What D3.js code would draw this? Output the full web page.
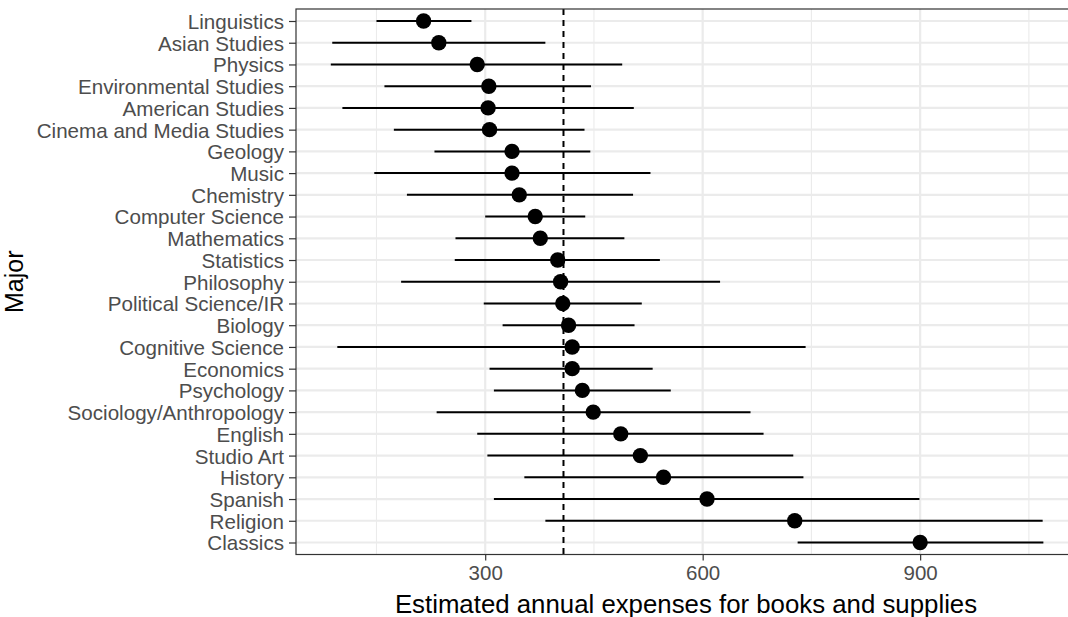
<!DOCTYPE html>
<html>
<head>
<meta charset="utf-8">
<script src="https://cdn.jsdelivr.net/npm/d3@7"></script>
<style>
  html, body { margin: 0; padding: 0; background: #fff; }
  svg { display: block; font-family: "Liberation Sans", Arial, sans-serif; }
</style>
</head>
<body>
<svg id="chart" width="1068" height="617"></svg>
<script>
// ---- data ----
const majors = ["Linguistics","Asian Studies","Physics","Environmental Studies","American Studies",
  "Cinema and Media Studies","Geology","Music","Chemistry","Computer Science","Mathematics",
  "Statistics","Philosophy","Political Science/IR","Biology","Cognitive Science","Economics",
  "Psychology","Sociology/Anthropology","English","Studio Art","History","Spanish","Religion","Classics"];
const estimates = [215,236,289,305,304,306,337,337,347,369,376,400,404,407,415,420,420,434,449,487,514,546,606,727,900];
const lower     = [150,89,87,161,103,174,230,147,192,300,259,258,184,298,324,96,306,312,233,289,303,354,312,383,731];
const upper     = [281,383,489,446,505,437,445,528,504,438,492,541,624,516,506,742,531,556,666,684,725,739,899,1069,1070];
const overallMean = 408;
const xMajorTicks = [300, 600, 900];
const xMinorTicks = [150, 450, 750, 1050];
const xTitle = "Estimated annual expenses for books and supplies";
const yTitle = "Major";

// ---- layout ----
const svg = d3.select("#chart");
const panel = { left: 296, right: 1076, top: 9, bottom: 554.5 };

const x = d3.scaleLinear().domain([39, 1115]).range([panel.left, panel.right]);
const y = d3.scalePoint().domain(majors).range([21, 542.5]);

const rows = majors.map((m, i) => ({ major: m, est: estimates[i], lo: lower[i], hi: upper[i] }));

// panel background
svg.append("rect")
  .attr("x", panel.left).attr("y", panel.top)
  .attr("width", panel.right - panel.left).attr("height", panel.bottom - panel.top)
  .attr("fill", "#fff");

const grid = svg.append("g");
// minor vertical gridlines
grid.selectAll("line.minor").data(xMinorTicks).join("line")
  .attr("x1", d => x(d)).attr("x2", d => x(d))
  .attr("y1", panel.top).attr("y2", panel.bottom)
  .attr("stroke", "#EBEBEB").attr("stroke-width", 1.1);
// major vertical gridlines
grid.selectAll("line.majx").data(xMajorTicks).join("line")
  .attr("x1", d => x(d)).attr("x2", d => x(d))
  .attr("y1", panel.top).attr("y2", panel.bottom)
  .attr("stroke", "#EBEBEB").attr("stroke-width", 2.2);
// horizontal gridlines
grid.selectAll("line.majy").data(majors).join("line")
  .attr("x1", panel.left).attr("x2", panel.right)
  .attr("y1", d => y(d)).attr("y2", d => y(d))
  .attr("stroke", "#EBEBEB").attr("stroke-width", 2.2);

// dashed mean line
svg.append("line")
  .attr("x1", x(overallMean)).attr("x2", x(overallMean))
  .attr("y1", panel.top).attr("y2", panel.bottom)
  .attr("stroke", "#000").attr("stroke-width", 2)
  .attr("stroke-dasharray", "6,5");

// interval lines
svg.append("g").selectAll("line").data(rows).join("line")
  .attr("x1", d => x(d.lo)).attr("x2", d => x(d.hi))
  .attr("y1", d => y(d.major)).attr("y2", d => y(d.major))
  .attr("stroke", "#000").attr("stroke-width", 2);

// points
svg.append("g").selectAll("circle").data(rows).join("circle")
  .attr("cx", d => x(d.est)).attr("cy", d => y(d.major))
  .attr("r", 7.7).attr("fill", "#000");

// panel border
svg.append("rect")
  .attr("x", panel.left).attr("y", panel.top)
  .attr("width", panel.right - panel.left).attr("height", panel.bottom - panel.top)
  .attr("fill", "none").attr("stroke", "#333").attr("stroke-width", 1.2);

// x axis
const xAxis = svg.append("g")
  .attr("transform", `translate(0,${panel.bottom})`)
  .call(d3.axisBottom(x).tickValues(xMajorTicks).tickSize(6).tickPadding(5).tickFormat(d3.format("d")));
xAxis.select(".domain").remove();
xAxis.selectAll(".tick line").attr("stroke", "#333").attr("stroke-width", 1.2);
xAxis.selectAll(".tick text").attr("fill", "#4D4D4D").style("font-size", "20.5px")
  .style("font-family", "'Liberation Sans', Arial, sans-serif");

// y axis
const yAxis = svg.append("g")
  .attr("transform", `translate(${panel.left},0)`)
  .call(d3.axisLeft(y).tickSize(7).tickPadding(5));
yAxis.select(".domain").remove();
yAxis.selectAll(".tick line").attr("stroke", "#333").attr("stroke-width", 1.2);
yAxis.selectAll(".tick text").attr("fill", "#4D4D4D").style("font-size", "20.6px")
  .attr("dy", "0.36em")
  .style("font-family", "'Liberation Sans', Arial, sans-serif");

// axis titles
svg.append("text")
  .attr("x", 686).attr("y", 613)
  .attr("text-anchor", "middle").attr("fill", "#000")
  .style("font-size", "25.8px").text(xTitle);

svg.append("text")
  .attr("transform", `translate(23,${(panel.top + panel.bottom) / 2}) rotate(-90)`)
  .attr("text-anchor", "middle").attr("fill", "#000")
  .style("font-size", "25px").text(yTitle);
</script>
</body>
</html>
